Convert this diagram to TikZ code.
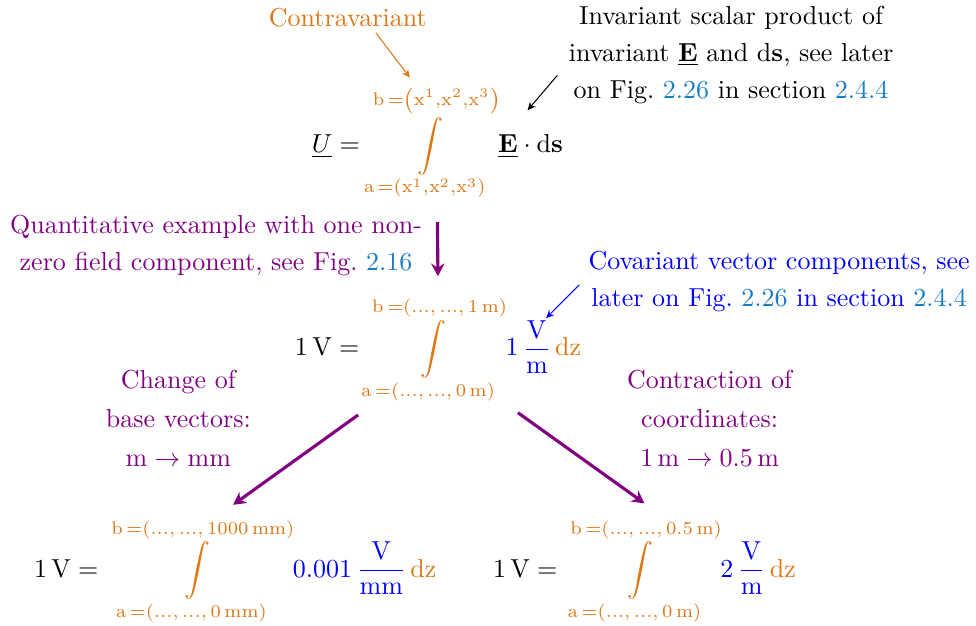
\documentclass[tikz,border=0pt]{standalone}
\usepackage{amssymb,amsmath}
\usepackage{xcolor}
\usepackage{tikz}
\usetikzlibrary{arrows.meta}

\DeclareMathSizes{10}{10}{6.6}{5}
\definecolor{intorange}{RGB}{222,118,20}
\definecolor{reflink}{RGB}{25,125,195}
\definecolor{steppurple}{RGB}{128,0,128}
\newcommand{\lnk}[1]{\textcolor{reflink}{#1}}

\begin{document}
\begin{tikzpicture}[
  note/.style={align=center, inner sep=2pt,
    font=\fontsize{10}{14.2}\selectfont},
  formula/.style={inner sep=2pt},
  hint/.style={-{Stealth[length=1.1mm, width=1mm]}, thin},
  flow/.style={-{Stealth[length=1.7mm, width=1.8mm]}, line width=1.2pt,
    steppurple}
]
\useasboundingbox (0,0) rectangle (13.19,-8.46);

% annotations at the top
\node[note, text=intorange] (contra) at (4.70,-0.24) {Contravariant};
\node[note] (scalar) at (9.88,-0.74) {Invariant scalar product of\\
  invariant \underline{\textbf{E}} and d\textbf{s}, see later\\
  on Fig.\ \lnk{2.26} in section \lnk{2.4.4}};

\node[formula] (eqtop) at (5.91,-1.93) {$\displaystyle
  \underline{U} = \color{intorange}\int\limits_{\mathrm{a}\,=(\mathrm{x}^1,\mathrm{x}^2,\mathrm{x}^3)}^{\mathrm{b}\,=\left(\mathrm{x}^1,\mathrm{x}^2,\mathrm{x}^3\right)}
  \color{black}\underline{\mathbf{E}}\cdot\mathrm{d}\mathbf{s}$};

\coordinate (contratip) at (5.54,-1.05);
\coordinate (scalartip) at (7.13,-1.49);
\draw[hint, intorange] ([xshift=0.38cm]contra.south) -- (contratip);
\draw[hint] ([xshift=-0.08cm,yshift=-0.28cm]scalar.west) -- (scalartip);

% quantitative example
\node[note, text=steppurple] (quant) at (2.92,-3.32) {Quantitative example with one non-\\
  zero field component, see Fig.\ \lnk{2.16}};
\node[note, text=blue] (covar) at (10.53,-3.80) {Covariant vector components, see\\
  later on Fig.\ \lnk{2.26} in section \lnk{2.4.4}};

\node[formula] (eqmid) at (5.92,-4.73) {$\displaystyle
  1\,\mathrm{V} = \color{intorange}\int\limits_{\mathrm{a}\,=(\dots,\,\dots,\,0\,\mathrm{m})}^{\mathrm{b}\,=(\dots,\,\dots,\,1\,\mathrm{m})}
  \color{blue}1\,\frac{\mathrm{V}}{\mathrm{m}}\,\color{intorange}\mathrm{dz}$};

\coordinate (covartip) at (7.38,-4.30);
\draw[hint, blue] ([xshift=-0.05cm,yshift=-0.05cm]covar.west) -- (covartip);
\draw[flow, shorten <=0.22cm, shorten >=0.2cm] (eqtop.south) -- (eqmid.north);

% the two transformations
\node[note, text=steppurple] (basechg) at (2.41,-5.65) {Change of\\[0.8pt]
  base vectors:\\[0.8pt] $\mathrm{m}\rightarrow\mathrm{mm}$};
\node[note, text=steppurple] (contract) at (9.59,-5.65) {Contraction of\\[0.8pt]
  coordinates:\\[0.8pt] $1\,\mathrm{m}\rightarrow0.5\,\mathrm{m}$};

\node[formula] (eqleft) at (3.18,-7.72) {$\displaystyle
  1\,\mathrm{V} = \color{intorange}\int\limits_{\mathrm{a}\,=(\dots,\,\dots,\,0\,\mathrm{mm})}^{\mathrm{b}\,=(\dots,\,\dots,\,1000\,\mathrm{mm})}
  \color{blue}0.001\,\frac{\mathrm{V}}{\mathrm{mm}}\,\color{intorange}\mathrm{dz}$};
\node[formula] (eqright) at (8.71,-7.72) {$\displaystyle
  1\,\mathrm{V} = \color{intorange}\int\limits_{\mathrm{a}\,=(\dots,\,\dots,\,0\,\mathrm{m})}^{\mathrm{b}\,=(\dots,\,\dots,\,0.5\,\mathrm{m})}
  \color{blue}2\,\frac{\mathrm{V}}{\mathrm{m}}\,\color{intorange}\mathrm{dz}$};

\draw[flow] ([xshift=-1.08cm,yshift=-0.08cm]eqmid.south) -- ([xshift=-0.03cm,yshift=0.1cm]eqleft.north);
\draw[flow] ([xshift=1.08cm,yshift=-0.05cm]eqmid.south) -- ([yshift=0.12cm]eqright.north);
\end{tikzpicture}
\end{document}
